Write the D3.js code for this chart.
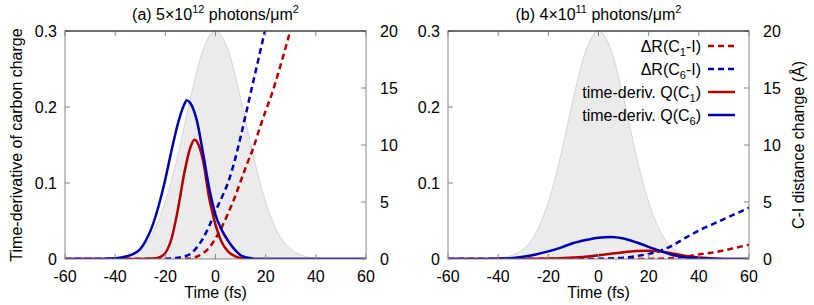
<!DOCTYPE html>
<html>
<head>
<meta charset="utf-8">
<script src="https://cdn.jsdelivr.net/npm/d3@7"></script>
<style>
body { margin: 0; background: #fff; }
svg text { font-family: "Liberation Sans", Arial, sans-serif; font-size: 16px; fill: #000; }
</style>
</head>
<body>
<script>
// pulse envelope (gray), same in both panels: [time fs, value]
var pulse = [[-60,0],[-55,0],[-50,0],[-45,0.0003],[-40,0.0012],[-35,0.0043],[-30,0.013],[-25,0.034],
  [-20,0.075],[-15,0.137],[-10,0.212],[-5,0.275],[0,0.3],[5,0.275],[10,0.212],[15,0.137],[20,0.075],
  [25,0.034],[30,0.013],[35,0.0043],[40,0.0012],[45,0.0003],[50,0],[55,0],[60,0]];

// panel (a) 5x10^12
var qC1_a = [[-60,0],[-30,0],[-25,0.0005],[-22.5,0.002],[-20,0.008],[-17.5,0.027],[-15,0.065],[-12.5,0.112],
  [-10,0.147],[-8.4,0.157],[-7.5,0.155],[-5,0.13],[-2.5,0.08],[0,0.045],[2.5,0.022],[5,0.01],[7.5,0.004],
  [10,0.001],[12.5,0],[60,0]];
var qC6_a = [[-60,0],[-45,0],[-40,0.001],[-37.5,0.002],[-35,0.004],[-32.5,0.007],[-30,0.013],[-27.5,0.026],
  [-25,0.045],[-22.5,0.072],[-20,0.105],[-17.5,0.143],[-15,0.178],[-12.5,0.203],[-11.5,0.209],[-10,0.205],
  [-7.5,0.183],[-5,0.14],[-2.5,0.093],[0,0.058],[2.5,0.038],[5,0.024],[7.5,0.013],[10,0.005],[12.5,0.002],
  [15,0.0005],[17.5,0],[60,0]];
var dR1_a = [[-60,0],[-20,0],[-15,0.01],[-10,0.05],[-7.5,0.2],[-5,0.5],[-2.5,1.0],[0,1.8],[2.5,2.8],[5,4.0],
  [7.5,5.3],[10,6.8],[12.5,8.3],[15,9.7],[17.5,11.4],[20,13.0],[22.5,14.5],[25,16.3],[27.5,18.2],[30,20.2],[32.5,22.3]];
var dR6_a = [[-60,0],[-25,0],[-20,0.02],[-17.5,0.05],[-15,0.1],[-12.5,0.22],[-10,0.45],[-7.5,1.0],[-5,1.8],
  [-2.5,2.9],[0,4.2],[2.5,5.4],[5,6.7],[7.5,8.5],[10,10.7],[12.5,13.1],[15,15.5],[17.5,17.9],[20,20.3],[22.5,22.8]];

// panel (b) 4x10^11
var qC1_b = [[-60,0],[-30,0],[-20,0.0005],[-15,0.001],[-10,0.002],[-5,0.003],[0,0.005],[5,0.007],[10,0.009],
  [15,0.0105],[20,0.011],[25,0.01],[30,0.007],[35,0.004],[40,0.002],[45,0.001],[50,0],[60,0]];
var qC6_b = [[-60,0],[-45,0],[-40,0.0005],[-35,0.001],[-30,0.003],[-25,0.006],[-20,0.01],[-15,0.015],[-10,0.021],
  [-5,0.025],[0,0.028],[5,0.029],[10,0.027],[15,0.022],[20,0.016],[25,0.01],[30,0.005],[35,0.002],[40,0.001],
  [45,0],[60,0]];
var dR1_b = [[-60,0],[15,0],[20,0.01],[25,0.03],[30,0.08],[35,0.22],[40,0.4],[45,0.55],[50,0.75],[55,1.0],[60,1.25]];
var dR6_b = [[-60,0],[-5,0],[0,0.02],[5,0.05],[10,0.12],[15,0.25],[20,0.45],[25,0.75],[30,1.25],[35,1.9],
  [40,2.5],[45,3.0],[50,3.5],[55,4.0],[60,4.5]];

var xTicks = [-60, -40, -20, 0, 20, 40, 60];
var yTicks = [0, 0.1, 0.2, 0.3];
var y2Ticks = [0, 5, 10, 15, 20];

var red = "#b00000", blue = "#0000b0";

var width = 814, height = 305;
var plotTop = 31, plotBottom = 259;

var svg = d3.select("body").append("svg")
  .attr("width", width)
  .attr("height", height);

var panels = [
  {id: "a", x0: 65, x1: 366, lead: "(a) 5\u00d710", exp: "12", q1: qC1_a, q6: qC6_a, r1: dR1_a, r6: dR6_a},
  {id: "b", x0: 448, x1: 749, lead: "(b) 4\u00d710", exp: "11", q1: qC1_b, q6: qC6_b, r1: dR1_b, r6: dR6_b}
];

var yScale = d3.scaleLinear().domain([0, 0.3]).range([plotBottom, plotTop]);
var y2Scale = d3.scaleLinear().domain([0, 20]).range([plotBottom, plotTop]);

panels.forEach(function(p) {
  var x = d3.scaleLinear().domain([-60, 60]).range([p.x0, p.x1]);
  var g = svg.append("g");

  g.append("clipPath").attr("id", "clip" + p.id)
    .append("rect")
    .attr("x", p.x0).attr("y", plotTop)
    .attr("width", p.x1 - p.x0).attr("height", plotBottom - plotTop);

  var area = d3.area()
    .x(function(d) { return x(d[0]); })
    .y0(yScale(0))
    .y1(function(d) { return yScale(d[1]); })
    .curve(d3.curveMonotoneX);
  var line = d3.line()
    .x(function(d) { return x(d[0]); })
    .y(function(d) { return yScale(d[1]); })
    .curve(d3.curveMonotoneX);
  var line2 = d3.line()
    .x(function(d) { return x(d[0]); })
    .y(function(d) { return y2Scale(d[1]); })
    .curve(d3.curveMonotoneX);

  var plot = g.append("g").attr("clip-path", "url(#clip" + p.id + ")");

  plot.append("path")
    .datum(pulse)
    .attr("d", area)
    .attr("fill", "#ebebeb")
    .attr("stroke", "#cccccc")
    .attr("stroke-width", 0.8);

  // ticks (inward)
  var ax = g.append("g").attr("stroke", "#888").attr("stroke-width", 1);
  xTicks.forEach(function(t) {
    ax.append("line").attr("x1", x(t)).attr("x2", x(t)).attr("y1", plotBottom).attr("y2", plotBottom - 5);
    ax.append("line").attr("x1", x(t)).attr("x2", x(t)).attr("y1", plotTop).attr("y2", plotTop + 5);
  });
  yTicks.forEach(function(t) {
    ax.append("line").attr("x1", p.x0).attr("x2", p.x0 + 5).attr("y1", yScale(t)).attr("y2", yScale(t));
  });
  y2Ticks.forEach(function(t) {
    ax.append("line").attr("x1", p.x1).attr("x2", p.x1 - 5).attr("y1", y2Scale(t)).attr("y2", y2Scale(t));
  });

  // border
  g.append("rect")
    .attr("x", p.x0).attr("y", plotTop)
    .attr("width", p.x1 - p.x0).attr("height", plotBottom - plotTop)
    .attr("fill", "none").attr("stroke", "#888").attr("stroke-width", 1);
  g.append("line")
    .attr("x1", p.x0).attr("x2", p.x1).attr("y1", plotTop).attr("y2", plotTop)
    .attr("stroke", "#222").attr("stroke-width", 1);

  plot.append("path").datum(p.r1).attr("d", line2)
    .attr("fill", "none").attr("stroke", red).attr("stroke-width", 2.5).attr("stroke-dasharray", "6,4");
  plot.append("path").datum(p.r6).attr("d", line2)
    .attr("fill", "none").attr("stroke", blue).attr("stroke-width", 2.5).attr("stroke-dasharray", "6,4");
  plot.append("path").datum(p.q1).attr("d", line)
    .attr("fill", "none").attr("stroke", red).attr("stroke-width", 2.5);
  plot.append("path").datum(p.q6).attr("d", line)
    .attr("fill", "none").attr("stroke", blue).attr("stroke-width", 2.5);

  // tick labels
  xTicks.forEach(function(t) {
    g.append("text").attr("x", x(t)).attr("y", 282)
      .attr("text-anchor", "middle").text(t);
  });
  yTicks.forEach(function(t) {
    g.append("text").attr("x", p.x0 - 8).attr("y", yScale(t) + 6)
      .attr("text-anchor", "end").text(t === 0 ? "0" : t.toFixed(1));
  });
  y2Ticks.forEach(function(t) {
    g.append("text").attr("x", p.x1 + 14).attr("y", y2Scale(t) + 6)
      .attr("text-anchor", "start").text(t);
  });

  g.append("text").attr("x", (p.x0 + p.x1) / 2).attr("y", 298)
    .attr("text-anchor", "middle").text("Time (fs)");

  var title = g.append("text").attr("x", (p.x0 + p.x1) / 2).attr("y", 20)
    .attr("text-anchor", "middle");
  title.append("tspan").text(p.lead);
  title.append("tspan").attr("dy", -7).style("font-size", "11px").text(p.exp);
  title.append("tspan").attr("dy", 7).text(" photons/\u03bcm");
  title.append("tspan").attr("dy", -7).style("font-size", "11px").text("2");
});

svg.append("text")
  .attr("transform", "translate(22,145) rotate(-90)")
  .attr("text-anchor", "middle")
  .text("Time-derivative of carbon charge");

svg.append("text")
  .attr("transform", "translate(804,145) rotate(-90)")
  .attr("text-anchor", "middle")
  .text("C-I distance change (\u00c5)");

// legend (panel b)
var legendItems = [
  {pre: "\u0394R(C", sub: "1", post: "-I)", color: red, dash: "6,4"},
  {pre: "\u0394R(C", sub: "6", post: "-I)", color: blue, dash: "6,4"},
  {pre: "time-deriv. Q(C", sub: "1", post: ")", color: red, dash: null},
  {pre: "time-deriv. Q(C", sub: "6", post: ")", color: blue, dash: null}
];
var leg = svg.append("g");
legendItems.forEach(function(d, i) {
  var yy = 46 + i * 23;
  var t = leg.append("text").attr("x", 701).attr("y", yy + 6).attr("text-anchor", "end");
  t.append("tspan").text(d.pre);
  t.append("tspan").attr("dy", 4).style("font-size", "11px").text(d.sub);
  t.append("tspan").attr("dy", -4).text(d.post);
  leg.append("line")
    .attr("x1", 708).attr("x2", 735).attr("y1", yy).attr("y2", yy)
    .attr("stroke", d.color).attr("stroke-width", 2.5)
    .attr("stroke-dasharray", d.dash);
});
</script>
</body>
</html>
